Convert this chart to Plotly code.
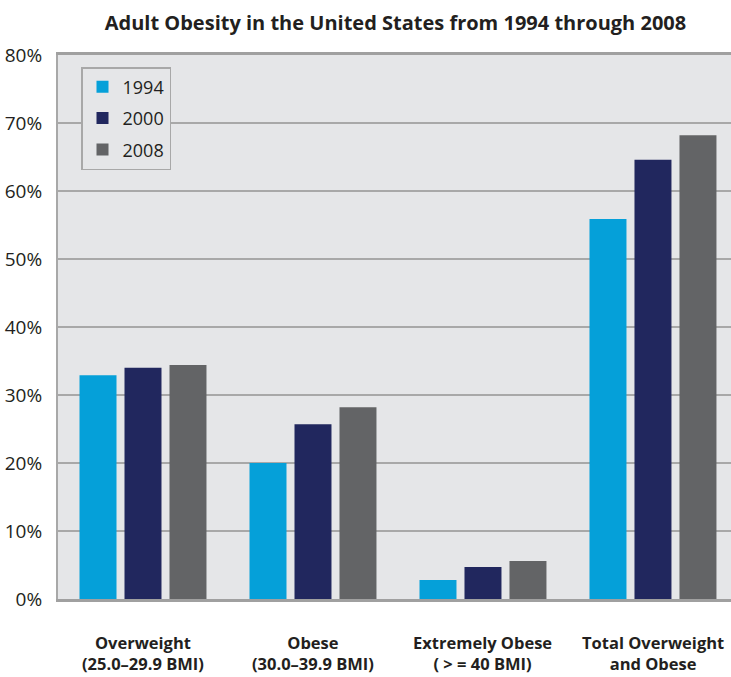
import plotly.graph_objects as go

cat_line1 = ["Overweight", "Obese", "Extremely Obese", "Total Overweight"]
cat_line2 = ["(25.0–29.9 BMI)", "(30.0–39.9 BMI)", "( > = 40 BMI)", "and Obese"]
years = ["1994", "2000", "2008"]
v1994 = [32.9, 20.0, 2.8, 55.9]
v2000 = [34.0, 25.7, 4.7, 64.6]
v2008 = [34.4, 28.2, 5.6, 68.2]
colors = ["#05a0d9", "#21275e", "#636466"]
y_ticks = [0, 10, 20, 30, 40, 50, 60, 70, 80]

FONT = "Open Sans"
TXT = "#231f20"
fig = go.Figure()
xs = list(range(len(cat_line1)))
for name, vals, col in zip(years, [v1994, v2000, v2008], colors):
    fig.add_trace(go.Bar(x=xs, y=vals, name=name, legendgroup=name,
                         marker=dict(color=col, line=dict(width=0))))

annotations = []
for i, (l1, l2) in enumerate(zip(cat_line1, cat_line2)):
    annotations.append(dict(x=i, xref="x", y=0, yref="paper", yshift=-77,
                            text="<b>" + l1 + "</b><br><b>" + l2 + "</b>",
                            showarrow=False, xanchor="center", yanchor="bottom",
                            borderpad=0,
                            font=dict(size=16.5, family=FONT, color=TXT)))

fig.update_layout(
    width=731, height=677,
    margin=dict(l=58, r=0, t=55, b=78),
    paper_bgcolor="white", plot_bgcolor="#e5e6e8",
    barmode="group", bargap=0.206, bargroupgap=0.178,
    font=dict(family=FONT, color=TXT),
    title=dict(text="<b>Adult Obesity in the United States from 1994 through 2008</b>",
               x=0.541, xanchor="center", y=1 - 23 / 677, yanchor="middle",
               font=dict(size=20, family=FONT, color=TXT)),
    legend=dict(x=23 / 673, y=1 - 12 / 544, xanchor="left", yanchor="top",
                bgcolor="#e5e6e8", bordercolor="#a8a8a8", borderwidth=1.5,
                font=dict(size=18, family=FONT, color=TXT),
                tracegroupgap=5, itemwidth=30),
    showlegend=True,
    annotations=annotations,
)
fig.update_xaxes(range=[-0.5, 3.459], tickmode="array", tickvals=xs,
                 showticklabels=False,
                 showline=True, linecolor="#a0a0a0", linewidth=2.5, mirror=True,
                 ticks="", showgrid=False, zeroline=False)
fig.update_yaxes(range=[0, 80], tickmode="array", tickvals=y_ticks,
                 ticktext=[f"{t}%" for t in y_ticks],
                 tickfont=dict(size=19, family=FONT, color=TXT),
                 showgrid=True, gridcolor="#a8a8a8", gridwidth=2,
                 showline=True, linecolor="#a8a8a8", linewidth=2,
                 zeroline=False, ticks="", ticklabelstandoff=10)
fig.write_html("out.html")
